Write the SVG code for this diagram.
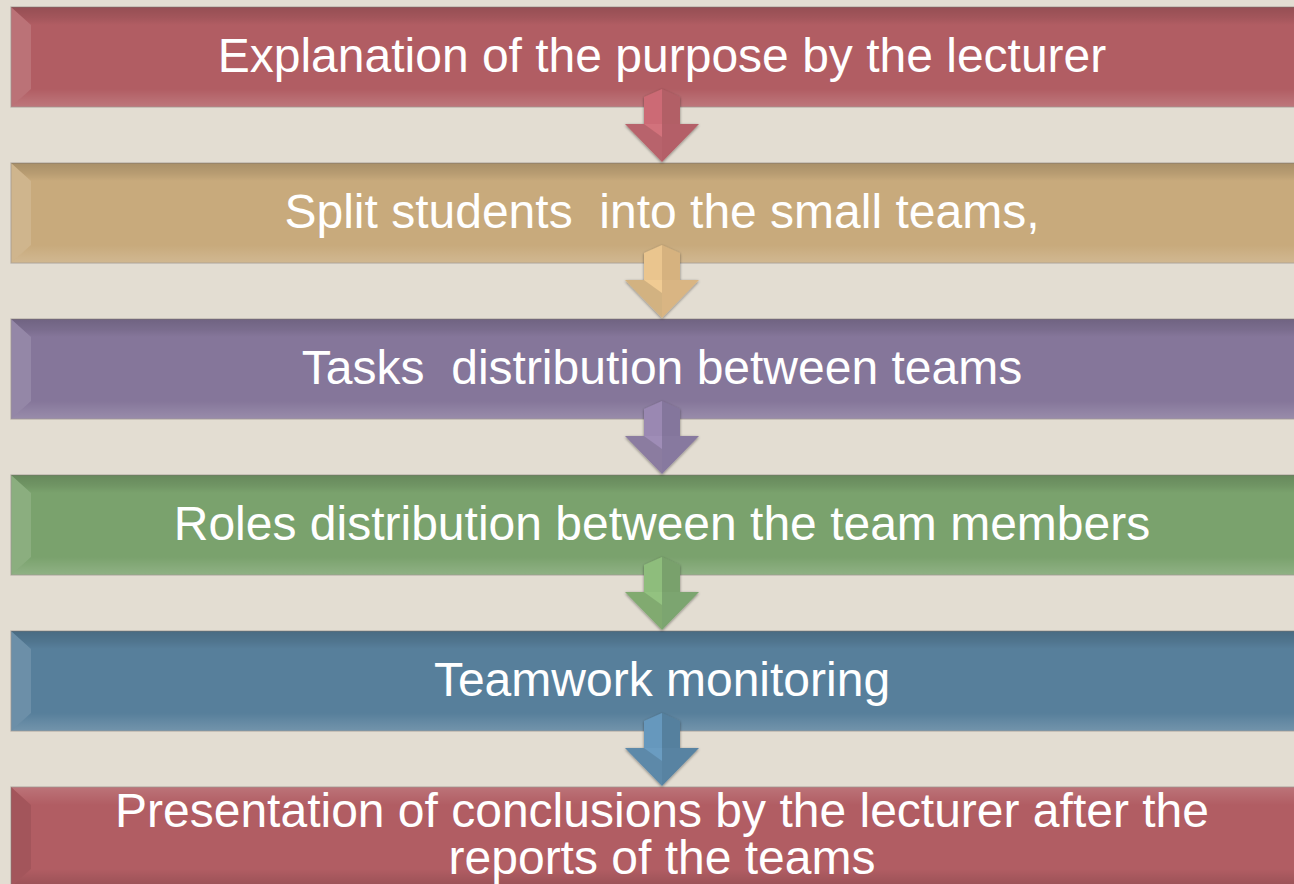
<svg xmlns="http://www.w3.org/2000/svg" width="1294" height="884" viewBox="0 0 1294 884">
<defs>
<linearGradient id="gTop" x1="0" y1="0" x2="0" y2="1">
<stop offset="0" stop-color="#000" stop-opacity="0.16"/>
<stop offset="0.6" stop-color="#000" stop-opacity="0.08"/>
<stop offset="1" stop-color="#000" stop-opacity="0"/>
</linearGradient>
<linearGradient id="gBot" x1="0" y1="0" x2="0" y2="1">
<stop offset="0" stop-color="#fff" stop-opacity="0"/>
<stop offset="0.6" stop-color="#fff" stop-opacity="0.1"/>
<stop offset="1" stop-color="#fff" stop-opacity="0.16"/>
</linearGradient>
<linearGradient id="gTopL" x1="0" y1="0" x2="0" y2="1">
<stop offset="0" stop-color="#fff" stop-opacity="0.14"/>
<stop offset="1" stop-color="#fff" stop-opacity="0"/>
</linearGradient>
<linearGradient id="gBotD" x1="0" y1="0" x2="0" y2="1">
<stop offset="0" stop-color="#000" stop-opacity="0"/>
<stop offset="1" stop-color="#000" stop-opacity="0.14"/>
</linearGradient>
<filter id="sh" x="-30%" y="-30%" width="160%" height="160%">
<feGaussianBlur in="SourceAlpha" stdDeviation="1.5"/>
<feOffset dx="0" dy="1" result="b"/>
<feComponentTransfer><feFuncA type="linear" slope="0.45"/></feComponentTransfer>
<feMerge><feMergeNode/><feMergeNode in="SourceGraphic"/></feMerge>
</filter>
<g id="bevel">
<polygon points="0,0 1300,0 1300,18 20,18" fill="url(#gTop)"/>
<polygon points="20,82 1300,82 1300,100 0,100" fill="url(#gBot)"/>
<polygon points="0,0 20,18 20,82 0,100" fill="#fff" fill-opacity="0.13"/>
</g>
<g id="bevelFlip">
<polygon points="0,0 1300,0 1300,18 20,18" fill="url(#gTopL)"/>
<polygon points="20,82 1300,82 1300,100 0,100" fill="url(#gBotD)"/>
<polygon points="0,0 20,18 20,82 0,100" fill="#000" fill-opacity="0.08"/>
</g>
</defs>
<style>
.bar{stroke:#8f8680;stroke-opacity:0.55;stroke-width:1.2}
.lbl{font-family:"Liberation Sans",Arial,sans-serif;font-size:48px;fill:#ffffff;text-anchor:middle;white-space:pre}
.dk{fill:#000;fill-opacity:0.12}
</style>
<rect x="0" y="0" width="1294" height="884" fill="#E3DDD2"/>

<g id="n1">
<rect class="bar" x="11" y="7" width="1300" height="100" fill="#B15D63"/>
<use href="#bevel" x="11" y="7"/>
<text class="lbl" x="662" y="72">Explanation of the purpose by the lecturer</text>
</g>
<g id="n2">
<rect class="bar" x="11" y="163" width="1300" height="100" fill="#C8AA7C"/>
<use href="#bevel" x="11" y="163"/>
<text class="lbl" x="662" y="228" xml:space="preserve">Split students  into the small teams,</text>
</g>
<g id="n3">
<rect class="bar" x="11" y="319" width="1300" height="100" fill="#85769A"/>
<use href="#bevel" x="11" y="319"/>
<text class="lbl" x="662" y="384" xml:space="preserve">Tasks  distribution between teams</text>
</g>
<g id="n4">
<rect class="bar" x="11" y="475" width="1300" height="100" fill="#7AA26D"/>
<use href="#bevel" x="11" y="475"/>
<text class="lbl" x="662" y="540">Roles distribution between the team members</text>
</g>
<g id="n5">
<rect class="bar" x="11" y="631" width="1300" height="100" fill="#577F9B"/>
<use href="#bevel" x="11" y="631"/>
<text class="lbl" x="662" y="696">Teamwork monitoring</text>
</g>
<g id="n6">
<rect class="bar" x="11" y="787" width="1300" height="100" fill="#B15D63"/>
<use href="#bevelFlip" x="11" y="787"/>
<text class="lbl" x="662" y="827">Presentation of conclusions by the lecturer after the</text>
<text class="lbl" x="662" y="874">reports of the teams</text>
</g>

<g id="connectors" filter="url(#sh)">
<g id="a1">
<polygon points="644,97 662,89 662,124 644,124" fill="#CC6B74"/>
<polygon points="662,89 680,97 680,124 662,124" fill="#B25E66"/>
<polygon points="625,124 662,124 662,162" fill="#D2727B"/>
<polygon points="662,124 699,124 662,162" fill="#B45F67"/>
<polygon points="625,124 644,124 662,137 662,162" class="dk"/>
</g>
<g id="a2">
<polygon points="644,253 662,245 662,280 644,280" fill="#EAC58E"/>
<polygon points="662,245 680,253 680,280 662,280" fill="#D6B27F"/>
<polygon points="625,280 662,280 662,318" fill="#F0CB93"/>
<polygon points="662,280 699,280 662,318" fill="#D9B583"/>
<polygon points="625,280 644,280 662,293 662,318" class="dk"/>
</g>
<g id="a3">
<polygon points="644,409 662,401 662,436 644,436" fill="#9A88B2"/>
<polygon points="662,401 680,409 680,436 662,436" fill="#84769C"/>
<polygon points="625,436 662,436 662,474" fill="#9F8DB7"/>
<polygon points="662,436 699,436 662,474" fill="#87799F"/>
<polygon points="625,436 644,436 662,449 662,474" class="dk"/>
</g>
<g id="a4">
<polygon points="644,565 662,557 662,592 644,592" fill="#8EBD7C"/>
<polygon points="662,557 680,565 680,592 662,592" fill="#79A16C"/>
<polygon points="625,592 662,592 662,630" fill="#93C280"/>
<polygon points="662,592 699,592 662,630" fill="#7CA56F"/>
<polygon points="625,592 644,592 662,605 662,630" class="dk"/>
</g>
<g id="a5">
<polygon points="644,721 662,713 662,748 644,748" fill="#6698BD"/>
<polygon points="662,713 680,721 680,748 662,748" fill="#55809E"/>
<polygon points="625,748 662,748 662,786" fill="#6A9CC1"/>
<polygon points="662,748 699,748 662,786" fill="#5883A2"/>
<polygon points="625,748 644,748 662,761 662,786" class="dk"/>
</g>
</g>
</svg>
